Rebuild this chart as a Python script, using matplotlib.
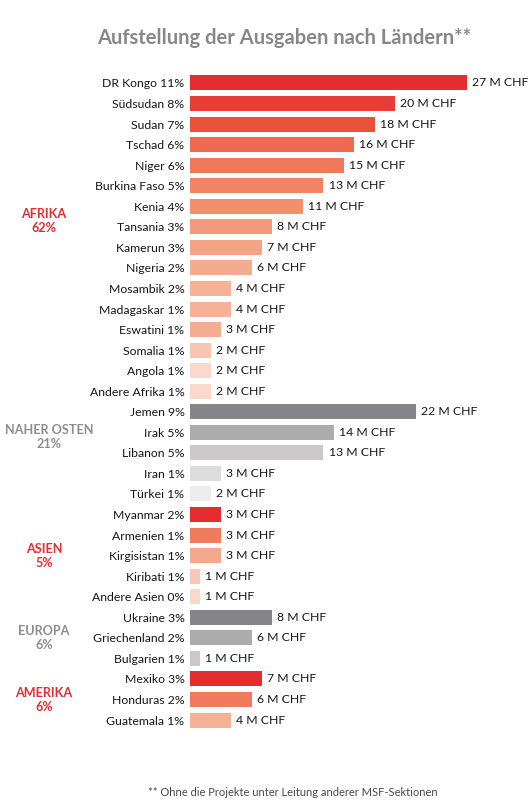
import matplotlib.pyplot as plt
import numpy as np

plt.rcParams['font.family'] = ['Lato', 'DejaVu Sans']

countries = ['DR Kongo', 'Südsudan', 'Sudan', 'Tschad', 'Niger', 'Burkina Faso', 'Kenia',
             'Tansania', 'Kamerun', 'Nigeria', 'Mosambik', 'Madagaskar', 'Eswatini', 'Somalia',
             'Angola', 'Andere Afrika',
             'Jemen', 'Irak', 'Libanon', 'Iran', 'Türkei',
             'Myanmar', 'Armenien', 'Kirgisistan', 'Kiribati', 'Andere Asien',
             'Ukraine', 'Griechenland', 'Bulgarien',
             'Mexiko', 'Honduras', 'Guatemala']
pct = [11, 8, 7, 6, 6, 5, 4, 3, 3, 2, 2, 1, 1, 1, 1, 1,
       9, 5, 5, 1, 1,
       2, 1, 1, 1, 0,
       3, 2, 1,
       3, 2, 1]
mio_chf = [27, 20, 18, 16, 15, 13, 11, 8, 7, 6, 4, 4, 3, 2, 2, 2,
           22, 14, 13, 3, 2,
           3, 3, 3, 1, 1,
           8, 6, 1,
           7, 6, 4]

regions = ['AFRIKA', 'NAHER OSTEN', 'ASIEN', 'EUROPA', 'AMERIKA']
region_pct = [62, 21, 5, 6, 6]

red = '#e42d30'
grey = '#858488'
colors = [red, '#e63e36', '#e8523a', '#ec6b50', '#ee7859', '#f08563', '#f18f6f',
          '#f29b7c', '#f3a486', '#f4ac8f', '#f5b297', '#f5b297', '#f5ad91', '#f8c5b0',
          '#fad8cb', '#fad8cb',
          grey, '#aeabad', '#cac8c9', '#dddcdd', '#ececec',
          red, '#ef7a5c', '#f4a88b', '#f8c8b4', '#fad9cd',
          grey, '#aeabad', '#cac8c9',
          red, '#ef7a5c', '#f5b096']

W, H = 532, 805
fig = plt.figure(figsize=(W / 100, H / 100), dpi=100)
px_per = 10.26
x0, x1 = 190, 525
top, bot = 72.7, 730.3
ax = fig.add_axes([x0 / W, 1 - bot / H, (x1 - x0) / W, (bot - top) / H])

y = np.arange(len(countries))
ax.barh(y, mio_chf, height=0.73, color=colors)
ax.set_xlim(0, (x1 - x0) / px_per)
ax.set_ylim(len(countries) - 0.5, -0.5)
ax.set_yticks(y)
ax.set_yticklabels([f'{c} {p}%' for c, p in zip(countries, pct)], fontsize=8.8, color='#161616')
ax.tick_params(axis='y', length=0, pad=4)
ax.set_xticks([])
for s in ax.spines.values():
    s.set_visible(False)

for i, v in enumerate(mio_chf):
    ax.text(v + 0.5, i, f'{v} M CHF', va='center', ha='left', fontsize=8.8, color='#161616')

fig.text(284 / W, 1 - 38 / H, 'Aufstellung der Ausgaben nach Ländern**', ha='center', va='center',
         fontsize=14.5, color='#878787', fontweight='bold')

region_pos = [(44, 221), (49, 437), (44, 556), (44, 638), (44, 700)]
region_col = [red, '#8e8d90', red, '#8e8d90', red]
for (rx, ry), name, p, c in zip(region_pos, regions, region_pct, region_col):
    fig.text(rx / W, 1 - ry / H, f'{name}\n{p}%', ha='center', va='center', fontsize=9.1,
             color=c, fontweight='bold', linespacing=1.15)

fig.text(293 / W, 1 - 792 / H, '** Ohne die Projekte unter Leitung anderer MSF-Sektionen',
         ha='center', va='center', fontsize=8, color='#4a4a4a')

fig.savefig('out.png', dpi=100)
